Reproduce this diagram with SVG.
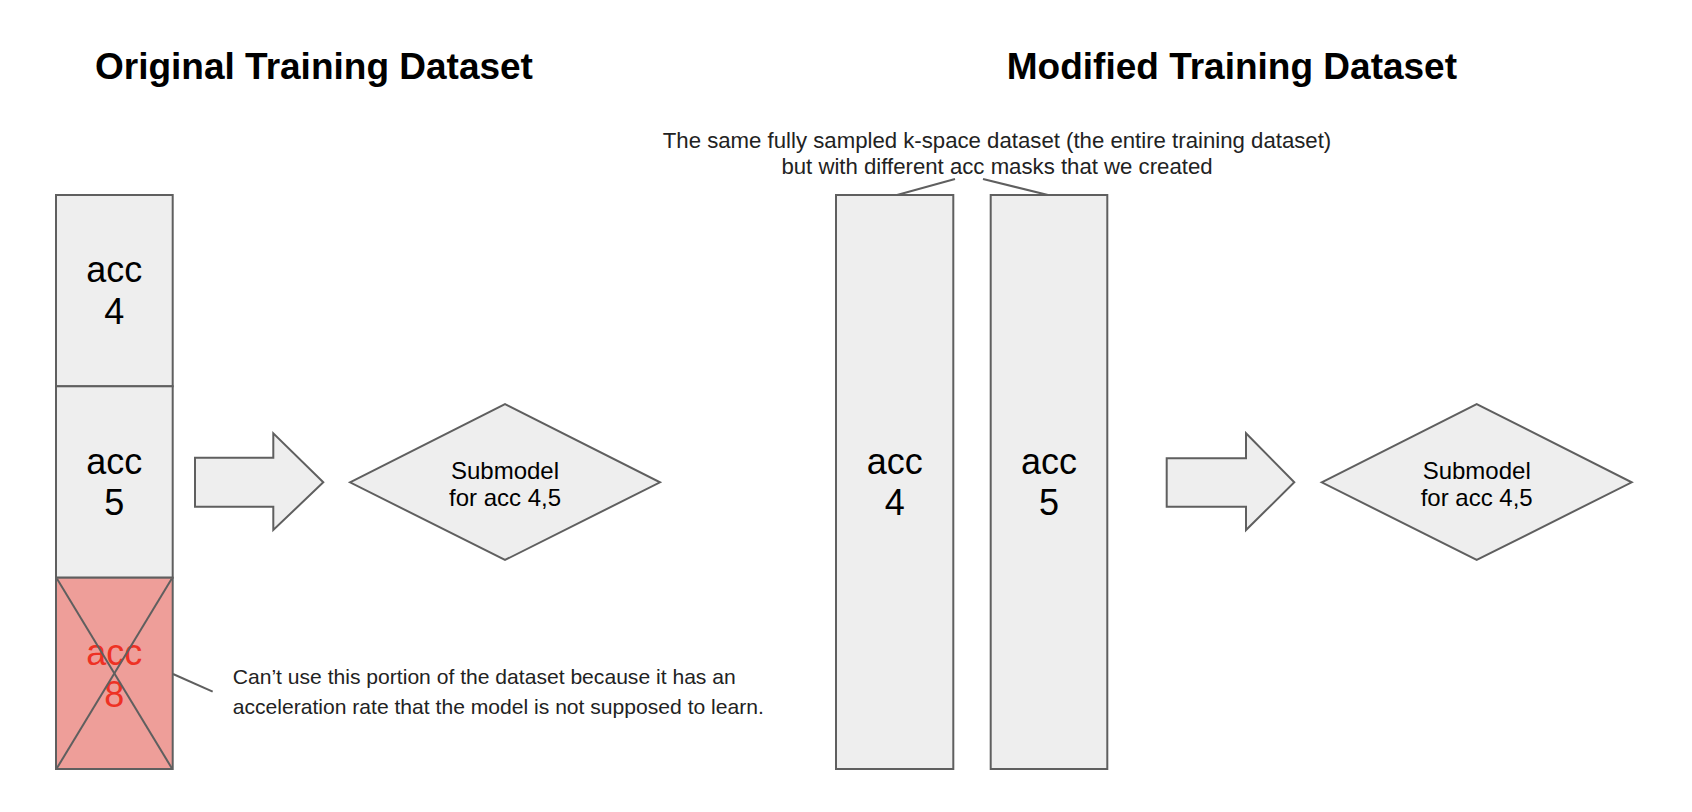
<svg xmlns="http://www.w3.org/2000/svg" width="1692" height="812" viewBox="0 0 1692 812">
<style>
.box{fill:#eeeeee;stroke:#5f5f5f;stroke-width:2}
.bad{fill:#ee9e99;stroke:#5f5f5f;stroke-width:2}
.ln{fill:none;stroke:#5f5f5f;stroke-width:2}
.t{font-family:"Liberation Sans",Arial,sans-serif;fill:#000}
.title{font-size:37px;font-weight:bold}
.acc{font-size:36px;text-anchor:middle}
.red{fill:#ee3124}
.sub{font-size:24px;text-anchor:middle}
.note{font-size:21.1px;fill:#222}
.note2{font-size:22.2px;fill:#222;text-anchor:middle}
</style>
<rect width="1692" height="812" fill="#ffffff"/>
<g id="title-original"><text class="t title" x="95" y="79">Original Training Dataset</text></g>
<g id="title-modified"><text class="t title" x="1006.8" y="79">Modified Training Dataset</text></g>

<g id="orig-acc4">
<rect class="box" x="56" y="195" width="116.7" height="191.3"/>
<text class="t acc" x="114.3" y="282.4">acc</text>
<text class="t acc" x="114.3" y="324.1">4</text>
</g>
<g id="orig-acc5">
<rect class="box" x="56" y="386.3" width="116.7" height="191.4"/>
<text class="t acc" x="114.3" y="473.7">acc</text>
<text class="t acc" x="114.3" y="515.4">5</text>
</g>
<g id="orig-acc8">
<rect class="bad" x="56" y="577.7" width="116.7" height="191.3"/>
<text class="t acc red" x="114.3" y="665">acc</text>
<text class="t acc red" x="114.3" y="706.7">8</text>
<line class="ln" x1="57" y1="578.7" x2="171.7" y2="768"/>
<line class="ln" x1="171.7" y1="578.7" x2="57" y2="768"/>
</g>
<g id="note-bottom">
<text class="t note" x="232.7" y="684">Can’t use this portion of the dataset because it has an</text>
<text class="t note" x="232.7" y="714">acceleration rate that the model is not supposed to learn.</text>
</g>

<g id="arrow-left"><path class="box" d="M195,457.7 H273.3 V433.3 L323.3,482.3 L273.3,530 V506.7 H195 Z"/></g>
<g id="submodel-left">
<path class="box" d="M350,482.3 L505,404 L660,482.3 L505,560 Z"/>
<text class="t sub" x="505" y="479">Submodel</text>
<text class="t sub" x="505" y="505.7">for acc 4,5</text>
</g>

<g id="mod-acc4">
<rect class="box" x="836" y="195" width="117.3" height="574"/>
<text class="t acc" x="894.7" y="473.7">acc</text>
<text class="t acc" x="894.7" y="515.4">4</text>
</g>
<g id="mod-acc5">
<rect class="box" x="990.7" y="195" width="116.6" height="574"/>
<text class="t acc" x="1049" y="473.7">acc</text>
<text class="t acc" x="1049" y="515.4">5</text>
</g>
<g id="note-top">
<text class="t note2" x="997" y="148">The same fully sampled k-space dataset (the entire training dataset)</text>
<text class="t note2" x="997" y="174">but with different acc masks that we created</text>
</g>

<g id="arrow-right"><path class="box" d="M1166.7,458.3 H1246 V433.3 L1294.3,482.3 L1246,530 V506.7 H1166.7 Z"/></g>
<g id="submodel-right">
<path class="box" d="M1321.7,482.3 L1476.7,404 L1631.7,482.3 L1476.7,560 Z"/>
<text class="t sub" x="1476.7" y="479">Submodel</text>
<text class="t sub" x="1476.7" y="505.7">for acc 4,5</text>
</g>

<g id="connectors">
<line class="ln" x1="173" y1="674" x2="212.7" y2="691.7"/>
<line class="ln" x1="897" y1="195" x2="955" y2="179"/>
<line class="ln" x1="983" y1="179" x2="1048" y2="195"/>
</g>
</svg>
